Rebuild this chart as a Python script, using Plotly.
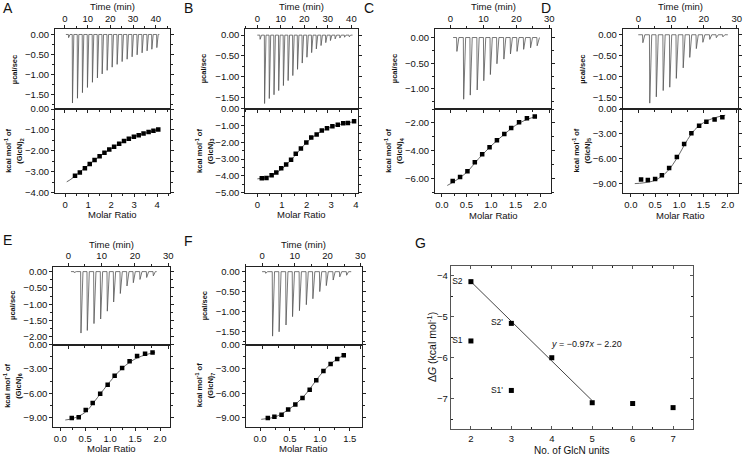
import plotly.graph_objects as go

FONT = "Liberation Sans, Arial, Helvetica, sans-serif"
W, H = 745, 456

# ---------------- DATA ----------------
# Panel A  (GlcN)2
A_run = [0.4, 41.6]
A_inj_t = [1.5, 3.2, 5.4, 7.6, 9.8, 12.0, 14.2, 16.3, 18.5, 20.7, 22.9, 25.1, 27.3, 29.5, 31.7, 33.9, 36.1, 38.2, 40.4]
A_inj_q = [-0.08, -1.72, -1.60, -1.46, -1.33, -1.20, -1.09, -0.99, -0.90, -0.82, -0.75, -0.68, -0.62, -0.56, -0.51, -0.46, -0.41, -0.37, -0.33]
A_mr = [0.43, 0.64, 0.86, 1.07, 1.28, 1.50, 1.71, 1.92, 2.13, 2.35, 2.56, 2.77, 2.99, 3.20, 3.41, 3.63, 3.84, 4.05]
A_dh = [-3.19, -3.03, -2.83, -2.63, -2.44, -2.26, -2.09, -1.94, -1.80, -1.66, -1.53, -1.42, -1.33, -1.25, -1.17, -1.10, -1.04, -0.98]
A_fit_mr = [0.07, 0.25, 0.5, 1.0, 1.5, 2.0, 2.5, 3.0, 3.5, 4.07]
A_fit_dh = [-3.48, -3.36, -3.14, -2.69, -2.26, -1.89, -1.57, -1.32, -1.15, -0.98]

# Panel B  (GlcN)3
B_run = [0.0, 40.5]
B_inj_t = [1.1, 3, 5, 7, 9, 11, 13, 15, 17, 19, 21, 23, 25, 27, 29, 31, 33, 35, 37, 39]
B_inj_q = [-0.10, -1.64, -1.52, -1.43, -1.33, -1.21, -1.09, -0.97, -0.82, -0.67, -0.53, -0.42, -0.33, -0.25, -0.18, -0.13, -0.09, -0.07, -0.05, -0.04]
B_mr = [0.18, 0.37, 0.58, 0.77, 0.97, 1.17, 1.37, 1.56, 1.77, 1.99, 2.19, 2.41, 2.62, 2.83, 3.05, 3.27, 3.49, 3.68, 3.93]
B_dh = [-4.14, -4.13, -3.96, -3.80, -3.55, -3.33, -3.04, -2.68, -2.37, -2.02, -1.72, -1.54, -1.31, -1.17, -1.05, -0.96, -0.88, -0.86, -0.76]
B_fit_mr = [0.0, 0.5, 1.0, 1.5, 2.0, 2.5, 3.0, 3.5, 3.95]
B_fit_dh = [-4.18, -4.03, -3.58, -2.85, -2.02, -1.45, -1.10, -0.90, -0.78]

# Panel C  (GlcN)4
C_run = [0.8, 27.0]
C_inj_t = [1.85, 3.9, 5.9, 8.0, 10.0, 12.0, 14.0, 16.1, 18.1, 20.1, 22.1, 24.2, 26.2]
C_inj_q = [-0.27, -1.20, -1.12, -1.02, -0.84, -0.72, -0.51, -0.42, -0.32, -0.27, -0.23, -0.20, -0.16]
C_mr = [0.22, 0.37, 0.52, 0.67, 0.82, 0.97, 1.12, 1.27, 1.41, 1.57, 1.73, 1.89]
C_dh = [-6.17, -5.88, -5.47, -4.81, -4.25, -3.75, -3.24, -2.80, -2.36, -1.95, -1.66, -1.54]
C_fit_mr = [0.11, 0.25, 0.5, 0.75, 1.0, 1.25, 1.5, 1.75, 1.92]
C_fit_dh = [-6.48, -6.20, -5.55, -4.55, -3.65, -2.87, -2.17, -1.72, -1.55]

# Panel D  (GlcN)5
D_run = [0.0, 27.3]
D_inj_t = [1.3, 3.4, 5.4, 7.5, 9.5, 11.5, 13.6, 15.6, 17.6, 19.6, 21.7, 23.7, 25.7]
D_inj_q = [-0.19, -1.63, -1.48, -1.33, -1.25, -1.04, -0.79, -0.54, -0.33, -0.18, -0.11, -0.07, -0.05]
D_mr = [0.21, 0.35, 0.50, 0.64, 0.79, 0.95, 1.10, 1.25, 1.41, 1.56, 1.73, 1.89]
D_dh = [-8.52, -8.56, -8.44, -7.99, -7.11, -5.78, -4.21, -2.92, -2.03, -1.55, -1.27, -0.99]
D_fit_mr = [0.08, 0.25, 0.5, 0.75, 0.9, 1.0, 1.1, 1.25, 1.4, 1.6, 1.8, 1.95]
D_fit_dh = [-9.00, -8.92, -8.60, -7.55, -6.40, -5.45, -4.40, -3.00, -2.05, -1.35, -0.95, -0.75]

# Panel E  (GlcN)6
E_run = [0.8, 26.5]
E_inj_t = [1.7, 3.7, 5.6, 7.6, 9.6, 11.6, 13.5, 15.5, 17.5, 19.4, 21.4, 23.4, 25.4]
E_inj_q = [-0.03, -1.88, -1.80, -1.59, -1.45, -1.21, -0.93, -0.67, -0.44, -0.34, -0.24, -0.18, -0.13]
E_mr = [0.23, 0.37, 0.51, 0.65, 0.80, 0.95, 1.09, 1.24, 1.39, 1.54, 1.70, 1.85]
E_dh = [-9.05, -8.95, -8.08, -7.20, -6.06, -4.95, -3.85, -2.90, -2.07, -1.42, -1.15, -1.00]
E_fit_mr = [0.1, 0.25, 0.5, 0.75, 1.0, 1.25, 1.5, 1.75, 1.9]
E_fit_dh = [-9.30, -9.12, -8.35, -6.50, -4.55, -2.88, -1.78, -1.20, -0.98]

# Panel F  (GlcN)7
F_run = [0.0, 27.2]
F_inj_t = [1.0, 3.1, 5.1, 7.2, 9.2, 11.3, 13.4, 15.4, 17.5, 19.5, 21.6, 23.6, 25.7]
F_inj_q = [-0.04, -1.62, -1.51, -1.34, -1.13, -0.98, -0.83, -0.68, -0.50, -0.35, -0.21, -0.13, -0.09]
F_mr = [0.13, 0.24, 0.36, 0.47, 0.59, 0.71, 0.83, 0.94, 1.06, 1.18, 1.29, 1.40]
F_dh = [-9.00, -8.85, -8.61, -7.98, -7.34, -6.55, -5.56, -4.37, -3.25, -2.38, -1.79, -1.31]
F_fit_mr = [0.02, 0.25, 0.5, 0.75, 1.0, 1.2, 1.42]
F_fit_dh = [-9.17, -8.88, -7.85, -6.20, -3.80, -2.25, -1.22]

# Panel G
G_units = [2, 2, 3, 3, 4, 5, 6, 7]
G_dG = [-4.14, -5.59, -5.16, -6.80, -6.00, -7.10, -7.12, -7.22]
G_labels = ["S2", "S1", "S2'", "S1'", "", "", "", ""]
G_fit_x = [2, 5]
G_fit_y = [-4.14, -7.05]
G_equation = "<i>y</i> = \u22120.97<i>x</i> \u2212 2.20"

# ---------------- LAYOUT ----------------
def X(p):
    return p / W


def Y(p):
    return 1 - p / H


def axname(kind, n):
    return f"{kind}axis" if n == 1 else f"{kind}axis{n}"


def minor(d, ticks="outside", ln=2):
    return dict(dtick=d, tick0=0, ticks=ticks, ticklen=ln, tickwidth=1, tickcolor="#222", showgrid=False)


def base(**kw):
    d = dict(showline=True, linecolor="#222", linewidth=1, mirror="allticks", ticks="outside",
             ticklen=3, tickwidth=1, tickcolor="#222", showgrid=False, zeroline=False,
             tickfont=dict(size=9.5, family=FONT, color="#111"))
    d.update(kw)
    return d


def thermogram(run, ts, qs):
    x = [run[0]]
    y = [0]
    for t, q in zip(ts, qs):
        x += [t, t + 0.1, t + 0.7]
        y += [0, q, 0]
    x.append(run[1])
    y.append(0)
    return x, y


itc = [
    dict(letter="A", sub="2", run=A_run, t=A_inj_t, q=A_inj_q, mr=A_mr, dh=A_dh, fx=A_fit_mr, fy=A_fit_dh,
         box=(55, 170, 29.3, 109, 192.7), tr=[-4.4, 46.3], qr=[-1.87, 0.13],
         mrr=[-0.44, 4.56], mrd=1, mrf="d", hr=[-4, 0], hd=1, lp=(1, 8), ty=6, my=214.5),
    dict(letter="B", sub="3", run=B_run, t=B_inj_t, q=B_inj_q, mr=B_mr, dh=B_dh, fx=B_fit_mr, fy=B_fit_dh,
         box=(245.3, 357.5, 29.3, 108.5, 192.7), tr=[-5.1, 42.6], qr=[-1.76, 0.14],
         mrr=[-0.49, 4.07], mrd=1, mrf="d", hr=[-5, 0], hd=1, lp=(182, 8), ty=6, my=214.5),
    dict(letter="C", sub="4", run=C_run, t=C_inj_t, q=C_inj_q, mr=C_mr, dh=C_dh, fx=C_fit_mr, fy=C_fit_dh,
         box=(435, 551, 29.3, 109, 192.7), tr=[-4.7, 30.5], qr=[-1.39, 0.16],
         mrr=[-0.14, 2.22], mrd=0.5, mrf=".1f", hr=[-7, -1], hd=2, lp=(362, 8), ty=6, my=215.5),
    dict(letter="D", sub="5", run=D_run, t=D_inj_t, q=D_inj_q, mr=D_mr, dh=D_dh, fx=D_fit_mr, fy=D_fit_dh,
         box=(622.7, 738.3, 29.3, 109, 192.7), tr=[-4.75, 30.5], qr=[-1.77, 0.13],
         mrr=[-0.17, 2.22], mrd=0.5, mrf=".1f", hr=[-10.1, 0], hd=3, lp=(539, 8), ty=6, my=215.5),
    dict(letter="E", sub="6", run=E_run, t=E_inj_t, q=E_inj_q, mr=E_mr, dh=E_dh, fx=E_fit_mr, fy=E_fit_dh,
         box=(53.3, 170, 266.7, 344.5, 426.5), tr=[-4.5, 30.5], qr=[-2.23, 0.15],
         mrr=[-0.14, 2.2], mrd=0.5, mrf=".1f", hr=[-10.1, 0], hd=3, lp=(1, 240), ty=245, my=448),
    dict(letter="F", sub="7", run=F_run, t=F_inj_t, q=F_inj_q, mr=F_mr, dh=F_dh, fx=F_fit_mr, fy=F_fit_dh,
         box=(245.7, 361.7, 266.7, 344.5, 426.5), tr=[-5.0, 30.4], qr=[-1.83, 0.125],
         mrr=[-0.24, 1.7], mrd=0.5, mrf=".1f", hr=[-10.05, 0], hd=3, lp=(182, 241), ty=245, my=448),
]

fig = go.Figure()
layout = dict(width=W, height=H, margin=dict(l=0, r=0, t=0, b=0), template="none",
              paper_bgcolor="white", plot_bgcolor="white", showlegend=False,
              font=dict(family=FONT, color="#111"))
ann = []


def text(x, y, s, size=9.5, angle=0, xanchor="center", bold=False):
    ann.append(dict(x=X(x), y=Y(y), xref="paper", yref="paper", text=(f"<b>{s}</b>" if bold else s),
                    showarrow=False, textangle=angle, xanchor=xanchor, yanchor="middle",
                    font=dict(size=size, family=FONT, color="#111")))


for i, p in enumerate(itc):
    nu, nl = 2 * i + 1, 2 * i + 2
    L, R, T, M, B = p["box"]
    tx, ty = thermogram(p["run"], p["t"], p["q"])
    fig.add_trace(go.Scatter(x=tx, y=ty, mode="lines", line=dict(color="#555", width=0.8),
                             xaxis=f"x{nu}", yaxis=f"y{nu}", hoverinfo="skip"))
    fig.add_trace(go.Scatter(x=p["fx"], y=p["fy"], mode="lines",
                             line=dict(color="#555", width=0.9, shape="spline"),
                             xaxis=f"x{nl}", yaxis=f"y{nl}", hoverinfo="skip"))
    fig.add_trace(go.Scatter(x=p["mr"], y=p["dh"], mode="markers",
                             marker=dict(symbol="square", size=4.5, color="black"),
                             xaxis=f"x{nl}", yaxis=f"y{nl}"))
    layout[axname("x", nu)] = base(domain=[X(L), X(R)], anchor=f"y{nu}", side="top", range=p["tr"],
                                   dtick=10, tick0=0, minor=minor(5))
    layout[axname("y", nu)] = base(domain=[Y(M), Y(T)], anchor=f"x{nu}", range=p["qr"], dtick=0.5,
                                   tick0=0, tickformat=".2f", minor=minor(0.25))
    layout[axname("x", nl)] = base(domain=[X(L), X(R)], anchor=f"y{nl}", side="bottom", range=p["mrr"],
                                   dtick=p["mrd"], tick0=0, tickformat=p["mrf"], mirror=True,
                                   minor=minor(p["mrd"] / 2))
    layout[axname("y", nl)] = base(domain=[Y(B), Y(M)], anchor=f"x{nl}", range=p["hr"], dtick=p["hd"],
                                   tick0=0, tickformat=".2f", minor=minor(p["hd"] / 2))
    # titles
    text((L + R) / 2, p["ty"], "Time (min)")
    text((L + R) / 2, p["my"], "Molar Ratio")
    text(L - 41, (T + M) / 2, "\u00b5cal/sec", size=7.5, angle=-90, bold=True)
    text(L - 47, (M + B) / 2, "kcal mol<sup>-1</sup> of", size=7.5, angle=-90, bold=True)
    text(L - 35, (M + B) / 2, f"(GlcN)<sub>{p['sub']}</sub>", size=7.5, angle=-90, bold=True)
    text(p["lp"][0], p["lp"][1], p["letter"], size=14, xanchor="left")

# Panel G
fig.add_trace(go.Scatter(x=G_fit_x, y=G_fit_y, mode="lines", line=dict(color="#444", width=1),
                         xaxis="x13", yaxis="y13", hoverinfo="skip"))
fig.add_trace(go.Scatter(x=G_units, y=G_dG, mode="markers+text", cliponaxis=False,
                         marker=dict(symbol="square", size=5, color="black"),
                         text=[s + "\u2002" if s else "" for s in G_labels],
                         textposition="middle left", textfont=dict(size=8.5, family=FONT, color="#111"),
                         xaxis="x13", yaxis="y13"))
GL, GR, GT, GB = 450.7, 693.3, 265.7, 429.3
layout["xaxis13"] = base(domain=[X(GL), X(GR)], anchor="y13", range=[1.5, 7.5], dtick=1, tick0=0,
                         ticks="inside", linecolor="#555", tickcolor="#555", minor=minor(0.5, "inside"))
layout["yaxis13"] = base(domain=[Y(GB), Y(GT)], anchor="x13", range=[-7.75, -3.75], dtick=1, tick0=0,
                         ticks="inside", linecolor="#555", tickcolor="#555", minor=minor(0.5, "inside"))
ann.append(dict(x=4.85, y=-5.66, xref="x13", yref="y13", text=G_equation, showarrow=False,
                xanchor="center", yanchor="middle", font=dict(size=9, family=FONT, color="#111")))
text((GL + GR) / 2, 450.5, "No. of GlcN units", size=10)
text(431.5, (GT + GB) / 2, "\u0394<i>G</i> (kcal mol<sup>-1</sup>)", size=10.5, angle=-90)
text(413, 243, "G", size=14, xanchor="left")

layout["annotations"] = ann
fig.update_layout(**layout)
fig.write_html("out.html", config={"displayModeBar": False},
               post_script="document.body.style.margin='0px';")
